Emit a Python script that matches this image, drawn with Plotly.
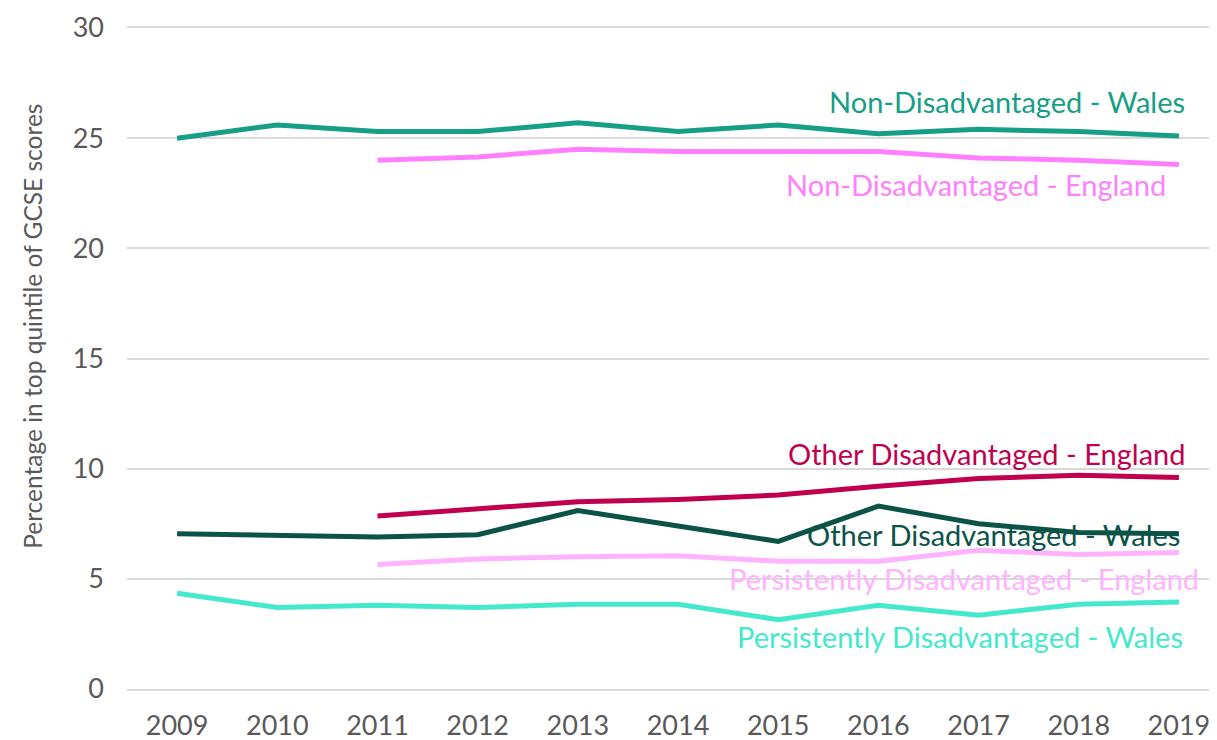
import plotly.graph_objects as go

years = [2009, 2010, 2011, 2012, 2013, 2014, 2015, 2016, 2017, 2018, 2019]
years_eng = [2011, 2012, 2013, 2014, 2015, 2016, 2017, 2018, 2019]

non_dis_wales = [25.0, 25.6, 25.3, 25.3, 25.7, 25.3, 25.6, 25.2, 25.4, 25.3, 25.1]
non_dis_england = [24.0, 24.15, 24.5, 24.4, 24.4, 24.4, 24.1, 24.0, 23.8]
other_dis_england = [7.85, 8.2, 8.5, 8.6, 8.8, 9.2, 9.55, 9.7, 9.6]
other_dis_wales = [7.05, 7.0, 6.9, 7.0, 8.1, 7.4, 6.7, 8.3, 7.5, 7.1, 7.05]
pers_dis_england = [5.65, 5.9, 6.0, 6.05, 5.8, 5.8, 6.3, 6.1, 6.2]
pers_dis_wales = [4.35, 3.7, 3.8, 3.7, 3.85, 3.85, 3.15, 3.8, 3.35, 3.85, 3.95]

series = [
    ("Non-Disadvantaged - Wales", years, non_dis_wales, "#179e87"),
    ("Non-Disadvantaged - England", years_eng, non_dis_england, "#ff80ff"),
    ("Other Disadvantaged - England", years_eng, other_dis_england, "#c0004f"),
    ("Other Disadvantaged - Wales", years, other_dis_wales, "#0a5346"),
    ("Persistently Disadvantaged - England", years_eng, pers_dis_england, "#ffb3ff"),
    ("Persistently Disadvantaged - Wales", years, pers_dis_wales, "#44e8cd"),
]

# label anchor positions (right edge, centre) in data coordinates
label_pos = [
    (2019.08, 26.65),
    (2018.89, 22.9),
    (2019.09, 10.7),
    (2019.03, 7.0),
    (2019.22, 5.0),
    (2019.06, 2.4),
]

fig = go.Figure()
for name, xs, ys, col in series:
    fig.add_trace(go.Scatter(x=xs, y=ys, mode="lines", name=name,
                             line=dict(color=col, width=5)))

annotations = []
for (name, xs, ys, col), (lx, ly) in zip(series, label_pos):
    annotations.append(dict(x=lx, y=ly, xref="x", yref="y", text=name,
                            showarrow=False, xanchor="right", yanchor="middle",
                            font=dict(family="Lato", size=29, color=col)))
annotations.append(dict(x=-0.0862, y=0.548, xref="paper", yref="paper",
                        text="Percentage in top quintile of GCSE scores",
                        textangle=-90, showarrow=False, xanchor="center", yanchor="middle",
                        font=dict(family="Lato", size=24.5, color="#595959")))

fig.update_layout(
    width=1209, height=732,
    margin=dict(l=119, r=0, t=20, b=51),
    paper_bgcolor="white", plot_bgcolor="white",
    showlegend=False,
    annotations=annotations,
    font=dict(family="Lato", color="#595959"),
)
fig.update_xaxes(range=[2008.5, 2019.38], tickmode="array", tickvals=years,
                 ticktext=[str(y) for y in years], showgrid=False, zeroline=False,
                 tickfont=dict(size=27, color="#595959"), ticks="",
                 showline=True, mirror=True, linecolor="#d9d9d9", linewidth=2,
                 ticklabelstandoff=12, automargin=False)
fig.update_yaxes(range=[0, 30], tickvals=[0, 5, 10, 15, 20, 25, 30], showgrid=True,
                 gridcolor="#d9d9d9", gridwidth=2, zeroline=False,
                 tickfont=dict(size=27, color="#595959"), ticks="", ticklabelstandoff=22,
                 automargin=False)

fig.write_html("out.html")
